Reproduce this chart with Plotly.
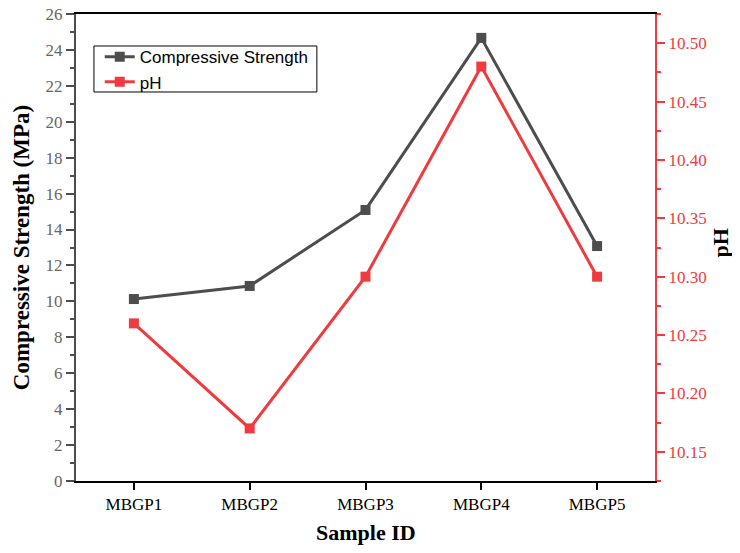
import plotly.graph_objects as go

samples = ["MBGP1", "MBGP2", "MBGP3", "MBGP4", "MBGP5"]
strength = [10.13, 10.86, 15.09, 24.67, 13.08]
ph = [10.26, 10.17, 10.30, 10.48, 10.30]

gray = "#4d4d4d"
red = "#ef3b40"
xi = list(range(len(samples)))

fig = go.Figure()
fig.add_trace(go.Scatter(x=xi, y=strength, name="Compressive Strength", mode="lines+markers",
                         line=dict(color=gray, width=3), marker=dict(symbol="square", size=10, color=gray)))
fig.add_trace(go.Scatter(x=xi, y=ph, name="pH", mode="lines+markers", yaxis="y2",
                         line=dict(color=red, width=3), marker=dict(symbol="square", size=10, color=red)))

serif = "Liberation Serif, Times New Roman, serif"
# page body has an 8px default margin; size the figure so it fits inside the window
fig.update_layout(
    width=724, height=537,
    margin=dict(l=68, r=77, t=6, b=64),
    paper_bgcolor="white", plot_bgcolor="white",
    showlegend=True,
    legend=dict(x=0.041, y=0.946, xanchor="left", yanchor="top",
                borderwidth=0, bgcolor="rgba(0,0,0,0)",
                font=dict(family="Liberation Sans, Arial, sans-serif", size=17, color="black"),
                tracegroupgap=0),
    shapes=[dict(type="rect", xref="paper", yref="paper", x0=0.031, x1=0.416, y0=0.833, y1=0.9315,
                 line=dict(color="black", width=1), fillcolor="white", layer="below")],
    annotations=[
        dict(text="<b>Sample ID</b>", xref="paper", yref="paper", x=0.5, y=0, xanchor="center",
             yanchor="middle", yshift=-51, showarrow=False,
             font=dict(family=serif, size=22, color="black")),
        dict(text="<b>pH</b>", xref="paper", yref="paper", x=1, y=0.5, xanchor="center",
             yanchor="middle", xshift=65, yshift=4, textangle=-90, showarrow=False,
             font=dict(family=serif, size=22, color="black")),
    ],
    xaxis=dict(range=[-0.5, 4.5], tickvals=xi, ticktext=samples, showgrid=False, zeroline=False,
               automargin=False,
               showline=True, linecolor="black", linewidth=2, mirror=True,
               ticks="outside", ticklen=7, tickwidth=2, tickcolor="black",
               tickfont=dict(family=serif, size=17, color="black")),
    yaxis=dict(range=[0, 26], dtick=2, showgrid=False, zeroline=False, automargin=False,
               ticklabeloverflow="allow",
               showline=True, linecolor=gray, linewidth=2,
               ticks="outside", ticklen=8, tickwidth=2, tickcolor=gray,
               minor=dict(ticks="outside", dtick=1, ticklen=4, tickwidth=2, tickcolor=gray),
               tickfont=dict(family=serif, size=17, color="#666666"),
               title=dict(text="<b>Compressive Strength (MPa)</b>", font=dict(family=serif, size=23, color="black"), standoff=10)),
    yaxis2=dict(range=[10.125, 10.525], overlaying="y", side="right", dtick=0.05, tickformat=".2f",
                automargin=False,
                showgrid=False, zeroline=False, showline=True, linecolor=red, linewidth=2,
                ticks="outside", ticklen=8, tickwidth=2, tickcolor=red,
                minor=dict(ticks="outside", dtick=0.025, ticklen=4, tickwidth=2, tickcolor=red),
                tickfont=dict(family=serif, size=17, color=red)),
)

fig.write_html("out.html")
